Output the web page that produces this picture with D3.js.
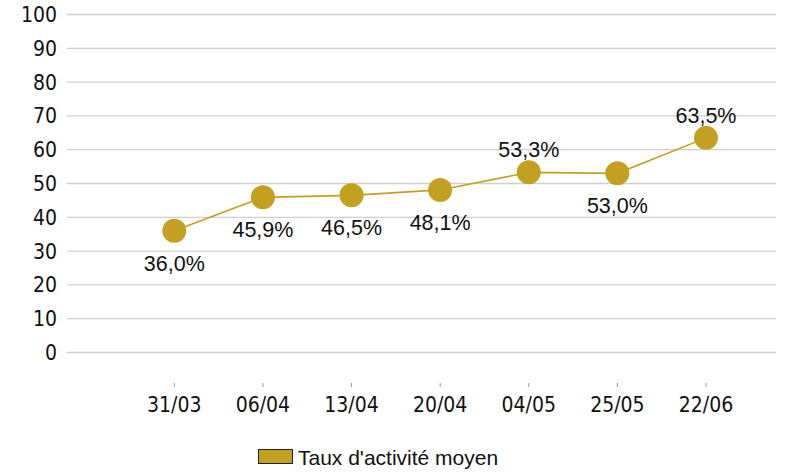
<!DOCTYPE html>
<html><head><meta charset="utf-8">
<script src="https://cdn.jsdelivr.net/npm/d3@7"></script>
<style>body{margin:0;background:#fff}svg{display:block}</style>
</head><body><svg id="c" width="796" height="472"></svg>
<script>
const categories = ["31/03","06/04","13/04","20/04","04/05","25/05","22/06"];
const values = [36.0, 45.9, 46.5, 48.1, 53.3, 53.0, 63.5];
const labelPos = ["below","below","below","below","above","below","above"];
const yTicks = [0,10,20,30,40,50,60,70,80,90,100];
const seriesName = "Taux d'activité moyen";
const color = "#C4A020";

const svg = d3.select("#c");
const axisFont = "'DejaVu Sans Condensed','DejaVu Sans',sans-serif";
const labFont = "'Liberation Sans',Arial,sans-serif";

const x = d3.scalePoint().domain(categories).range([174.3, 706]);
const y = d3.scaleLinear().domain([0,100]).range([352.5, 14.5]);

svg.append("g").selectAll("line").data(yTicks).join("line")
  .attr("x1",67).attr("x2",776)
  .attr("y1",d=>y(d)).attr("y2",d=>y(d))
  .attr("stroke","#cfcfcf").attr("stroke-width",1.3);

svg.append("g").selectAll("text").data(yTicks).join("text")
  .attr("x",57).attr("y",d=>y(d)).attr("dy","0.36em")
  .attr("text-anchor","end").attr("font-family",axisFont).attr("font-size",21)
  .attr("fill","#111").text(d=>d);

const xa = svg.append("g");
xa.selectAll("line").data(categories).join("line")
  .attr("x1",d=>x(d)).attr("x2",d=>x(d)).attr("y1",383).attr("y2",387)
  .attr("stroke","#999").attr("stroke-width",1);
xa.selectAll("text").data(categories).join("text")
  .attr("x",d=>x(d)).attr("y",404).attr("dy","0.36em")
  .attr("text-anchor","middle").attr("font-family",axisFont).attr("font-size",21)
  .attr("fill","#111").text(d=>d);

const pts = categories.map((c,i)=>({c, v:values[i], p:labelPos[i]}));
svg.append("path").datum(pts)
  .attr("d", d3.line().x(d=>x(d.c)).y(d=>y(d.v)))
  .attr("fill","none").attr("stroke",color).attr("stroke-width",1.6);

svg.append("g").selectAll("circle").data(pts).join("circle")
  .attr("cx",d=>x(d.c)).attr("cy",d=>y(d.v)).attr("r",12)
  .attr("fill",color);

svg.append("g").selectAll("text").data(pts).join("text")
  .attr("x",d=>x(d.c))
  .attr("y",d=>y(d.v) + (d.p==="below"?32:-23))
  .attr("dy","0.36em").attr("text-anchor","middle")
  .attr("font-family",labFont).attr("font-size",21.5).attr("fill","#111")
  .text(d=>d3.format(".1f")(d.v).replace(".",",")+"%");

const lg = svg.append("g");
lg.append("rect").attr("x",258.5).attr("y",449.5).attr("width",34).attr("height",14)
  .attr("fill",color).attr("stroke","#222").attr("stroke-width",1);
lg.append("text").attr("x",298).attr("y",457).attr("dy","0.36em")
  .attr("font-family",labFont).attr("font-size",21).attr("fill","#111").text(seriesName);
</script></body></html>
